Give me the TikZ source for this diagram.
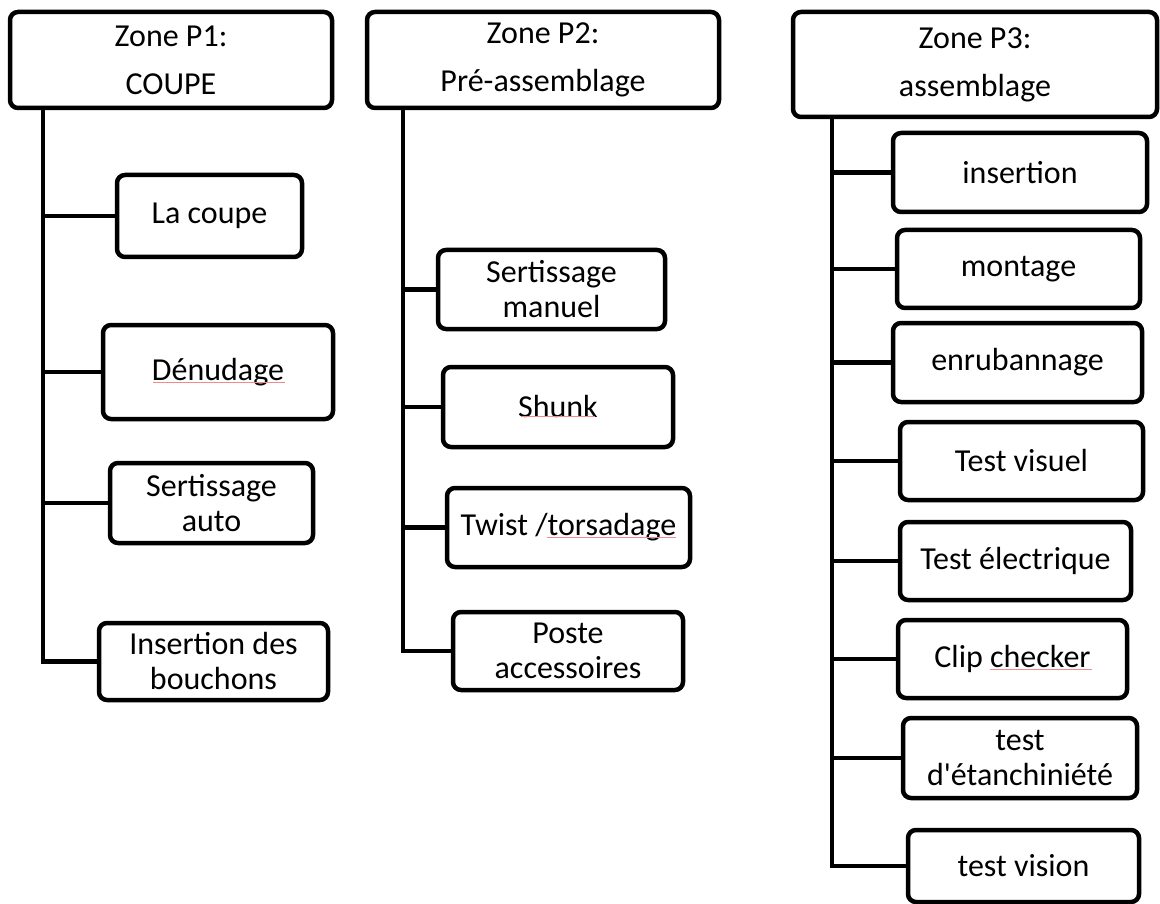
\documentclass[tikz,border=0pt]{standalone}
\usepackage{fontspec}
\setmainfont{Carlito}[Ligatures=TeXOff]
\begin{document}
\begin{tikzpicture}[x=1pt,y=-1pt,
  zonebox/.style={draw, line width=4.5pt, rounded corners=8pt, align=center,
    inner sep=0pt, font=\fontsize{32}{48}\selectfont},
  taskbox/.style={draw, line width=4.5pt, rounded corners=8pt, align=center,
    inner sep=0pt, font=\fontsize{32}{35}\selectfont},
  link/.style={line width=4.5pt, line cap=rect},
  spell/.style={draw={rgb,255:red,238;green,140;blue,140}, line width=0.8pt}]
\useasboundingbox (0,0) rectangle (1160,904);

% box from its corners (x1,y1,x2,y2)
\newcommand{\boxat}[6]{%
  \node[#1, minimum width={#4-#2}, minimum height={#5-#3}] (#6) at ({(#2+#4)/2},{(#3+#5)/2})}

% ---- Zone P1
\boxat{zonebox}{10}{12}{332}{108}{h1} {Zone P1:\\COUPE};
\boxat{taskbox}{117}{175}{302}{257}{a1} {La coupe};
\boxat{taskbox}{103}{325}{333}{419}{a2} {Dénudage};
\boxat{taskbox}{110}{463}{313}{543}{a3} {Sertissage\\auto};
\boxat{taskbox}{99}{623}{328}{700}{a4} {Insertion des\\bouchons};
\coordinate (t1) at (43,0);
\draw[link] (h1.south -| t1) |- (a4.west);
\foreach \n in {a1,a2,a3} \draw[link] (t1 |- \n.west) -- (\n.west);

% ---- Zone P2
\boxat{zonebox}{367}{12}{719}{108}{h2} {Zone P2:\\Pré-assemblage};
\boxat{taskbox}{438}{250}{665}{329}{b1} {Sertissage\\manuel};
\boxat{taskbox}{443}{367}{673}{447}{b2} {Shunk};
\boxat{taskbox}{447}{488}{690}{567}{b3} {Twist /torsadage};
\boxat{taskbox}{453}{612}{683}{690}{b4} {Poste\\accessoires};
\coordinate (t2) at (403,0);
\draw[link] (h2.south -| t2) |- (b4.west);
\foreach \n in {b1,b2,b3} \draw[link] (t2 |- \n.west) -- (\n.west);

% ---- Zone P3
\boxat{zonebox}{793}{12}{1157}{117}{h3} {Zone P3:\\assemblage};
\boxat{taskbox}{893}{133}{1147}{212}{c1} {insertion};
\boxat{taskbox}{897}{230}{1140}{308}{c2} {montage};
\boxat{taskbox}{893}{323}{1142}{402}{c3} {enrubannage};
\boxat{taskbox}{900}{422}{1143}{500}{c4} {Test visuel};
\boxat{taskbox}{900}{522}{1131}{600}{c5} {Test électrique};
\boxat{taskbox}{898}{620}{1127}{698}{c6} {Clip checker};
\boxat{taskbox}{903}{718}{1137}{798}{c7} {test\\d'étanchiniété};
\boxat{taskbox}{908}{830}{1139}{902}{c8} {test vision};
\coordinate (t3) at (832,0);
\draw[link] (h3.south -| t3) |- (c8.west);
\foreach \n in {c1,c2,c3,c4,c5,c6,c7} \draw[link] (t3 |- \n.west) -- (\n.west);

% ---- spell-check marks under words
\draw[spell] (153,382) -- (285,382);
\draw[spell] (522,416) -- (595,416);
\draw[spell] (547,537) -- (676,537);
\draw[spell] (990,669) -- (1092,669);
\end{tikzpicture}
\end{document}
